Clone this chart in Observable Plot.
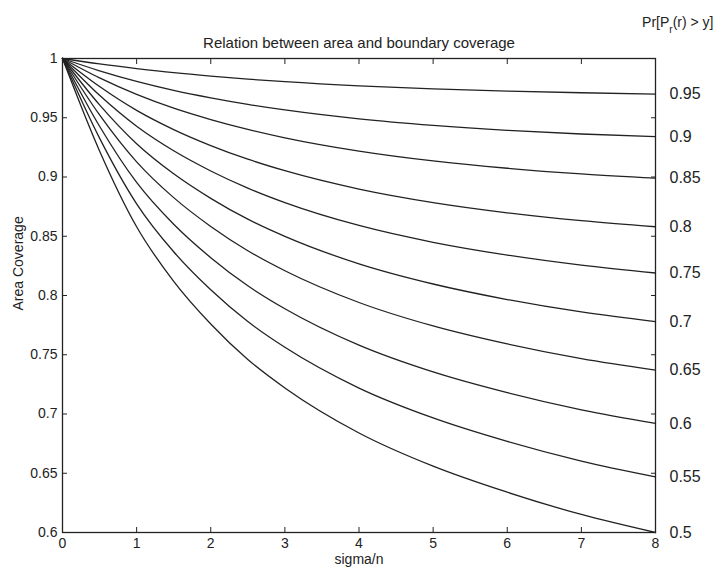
<!DOCTYPE html>
<html><head><meta charset="utf-8">
<script src="https://cdn.jsdelivr.net/npm/d3@7"></script>
<script src="https://cdn.jsdelivr.net/npm/@observablehq/plot@0.6"></script>
<style>body{margin:0;background:#fff} svg{display:block}</style>
</head><body><div id="chart"></div>
<script>
// sigma/n sample positions
const sigma = [0, 0.5, 1, 1.5, 2, 2.5, 3, 4, 5, 6, 7, 8];
// curve labels (Pr[P_r(r) > y])
const probLabels = ["0.95", "0.9", "0.85", "0.8", "0.75", "0.7", "0.65", "0.6", "0.55", "0.5"];
// area coverage for each curve
const p095 = [1, 0.9954, 0.9915, 0.9880, 0.9851, 0.9826, 0.9804, 0.9769, 0.9744, 0.9725, 0.9711, 0.970];
const p090 = [1, 0.9896, 0.9807, 0.9731, 0.9668, 0.9613, 0.9566, 0.9491, 0.9436, 0.9394, 0.9363, 0.934];
const p085 = [1, 0.9836, 0.9697, 0.9581, 0.9485, 0.9402, 0.9331, 0.9219, 0.9136, 0.9074, 0.9026, 0.899];
const p080 = [1, 0.9763, 0.9562, 0.9400, 0.9265, 0.9150, 0.9053, 0.8898, 0.8784, 0.8698, 0.8631, 0.858];
const p075 = [1, 0.9689, 0.9428, 0.9221, 0.9051, 0.8906, 0.8784, 0.8591, 0.8449, 0.8341, 0.8256, 0.819];
const p070 = [1, 0.9609, 0.9281, 0.9027, 0.8820, 0.8644, 0.8499, 0.8267, 0.8097, 0.7966, 0.7861, 0.778];
const p065 = [1, 0.9524, 0.9128, 0.8826, 0.8583, 0.8378, 0.8209, 0.7941, 0.7743, 0.7591, 0.7467, 0.737];
const p060 = [1, 0.9428, 0.8954, 0.8601, 0.8319, 0.8082, 0.7888, 0.7581, 0.7355, 0.7180, 0.7035, 0.692];
const p055 = [1, 0.9328, 0.8774, 0.8369, 0.8048, 0.7780, 0.7563, 0.7219, 0.6967, 0.6769, 0.6603, 0.647];
const p050 = [1, 0.9220, 0.8580, 0.8120, 0.7760, 0.7460, 0.7220, 0.6840, 0.6560, 0.6340, 0.6152, 0.600];
const seriesValues = [p095, p090, p085, p080, p075, p070, p065, p060, p055, p050];
const xTicks = [0, 1, 2, 3, 4, 5, 6, 7, 8];
const yTicks = [0.6, 0.65, 0.7, 0.75, 0.8, 0.85, 0.9, 0.95, 1];
const titleText = "Relation between area and boundary coverage";
const xLabel = "sigma/n";
const yLabel = "Area Coverage";

const rows = seriesValues.flatMap((vals, i) => vals.map((v, j) => ({series: probLabels[i], x: sigma[j], y: v})));
const ends = seriesValues.map((vals, i) => ({label: probLabels[i], x: sigma[sigma.length - 1], y: vals[vals.length - 1]}));

const ink = "#222";
const chart = Plot.plot({
  width: 716, height: 577,
  marginLeft: 62, marginRight: 61, marginTop: 58, marginBottom: 45,
  style: {fontFamily: "'Liberation Sans', Arial, sans-serif", fontSize: "14px", color: ink, background: "#fff", overflow: "visible"},
  x: {domain: [0, 8]},
  y: {domain: [0.6, 1]},
  marks: [
    Plot.frame({stroke: ink, strokeWidth: 1.3}),
    Plot.axisX({ticks: xTicks, tickSize: -5, tickPadding: 11, label: null, fontSize: 14}),
    Plot.axisX({anchor: "top", ticks: xTicks, tickSize: -5, tickFormat: () => "", label: null}),
    Plot.axisY({ticks: yTicks, tickSize: -5, tickPadding: 10, tickFormat: d => String(+d.toFixed(2)), label: null, fontSize: 14}),
    Plot.axisY({anchor: "right", ticks: yTicks, tickSize: -5, tickFormat: () => "", label: null}),
    Plot.line(rows, {x: "x", y: "y", z: "series", curve: "monotone-x", stroke: ink, strokeWidth: 1.3}),
    Plot.text(ends, {x: "x", y: "y", text: "label", dx: 14, textAnchor: "start", fontSize: 16, fill: ink}),
    Plot.text([titleText], {text: d => d, frameAnchor: "top", dy: -21, fontSize: 15, fill: ink}),
    Plot.text([xLabel], {text: d => d, frameAnchor: "bottom", dy: 31, fontSize: 14, fill: ink}),
    Plot.text([yLabel], {text: d => d, frameAnchor: "left", dx: -44, dy: 15, rotate: -90, fontSize: 14, fill: ink}),
    Plot.text(["Pr[P"], {text: d => d, frameAnchor: "top-right", dx: 58, dy: -41, textAnchor: "end", fontSize: 14, fill: ink, className: "prlabel"})
  ]
});
document.getElementById("chart").append(chart);
// rich text for the top-right legend title: Pr[P_r(r) > y]
const t = d3.select(chart).select("g.prlabel text");
t.text(null);
t.append("tspan").text("Pr[P");
t.append("tspan").attr("baseline-shift", "sub").attr("font-size", 10).text("r");
t.append("tspan").text("(r) > y]");
</script>
</body></html>
